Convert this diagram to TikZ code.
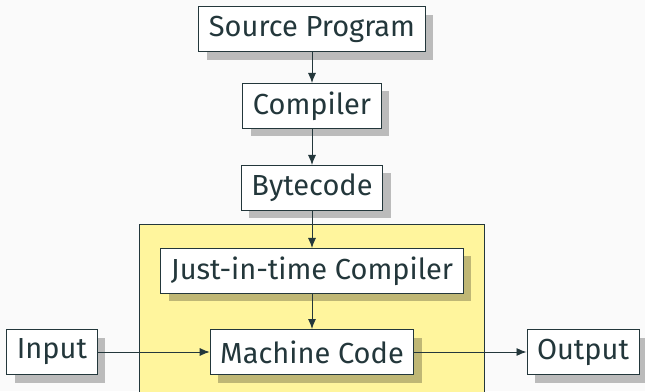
\documentclass[tikz,border=0pt]{standalone}
\usepackage{fontspec}
\setmainfont{Fira Sans}
\usetikzlibrary{shadows,arrows.meta}
\definecolor{ink}{HTML}{23373B}
\definecolor{paper}{HTML}{FAFAFA}
\definecolor{jitzone}{HTML}{FFF59D}
\tikzset{
  stage/.style={draw=ink, line width=1pt, fill=white, text=ink,
    font=\fontsize{29}{34}\selectfont, inner xsep=10pt, inner ysep=0pt,
    minimum height=45pt,
    drop shadow={shadow xshift=8pt, shadow yshift=-8pt, opacity=0.25, fill=black}},
  flow/.style={draw=ink, line width=0.9pt, -{Latex[length=10pt,width=8pt]}}
}
\begin{document}
\begin{tikzpicture}[x=1pt,y=1pt]
  \useasboundingbox (0,0) rectangle (645,391);
  \fill[paper] (0,0) rectangle (645,391);
  % runtime area
  \draw[ink, fill=jitzone, line width=1pt] (139,-5) rectangle (484,166);
  % stages
  \node[stage] (src)  at (312,361.5) {Source Program};
  \node[stage] (comp) at (312,285) {Compiler};
  \node[stage] (bc)   at (312,203) {Bytecode};
  \node[stage] (jit)  at (312,120) {Just-in-time Compiler};
  \node[stage] (mc)   at (312,39) {Machine Code};
  \node[stage] (in)   at (52,39) {Input};
  \node[stage] (out)  at (583,39) {Output};
  % flow
  \draw[flow] (src) -- (comp);
  \draw[flow] (comp) -- (bc);
  \draw[flow] (bc) -- (jit);
  \draw[flow] (jit) -- (mc);
  \draw[flow] (in) -- (mc);
  \draw[flow] (mc) -- (out);
\end{tikzpicture}
\end{document}
